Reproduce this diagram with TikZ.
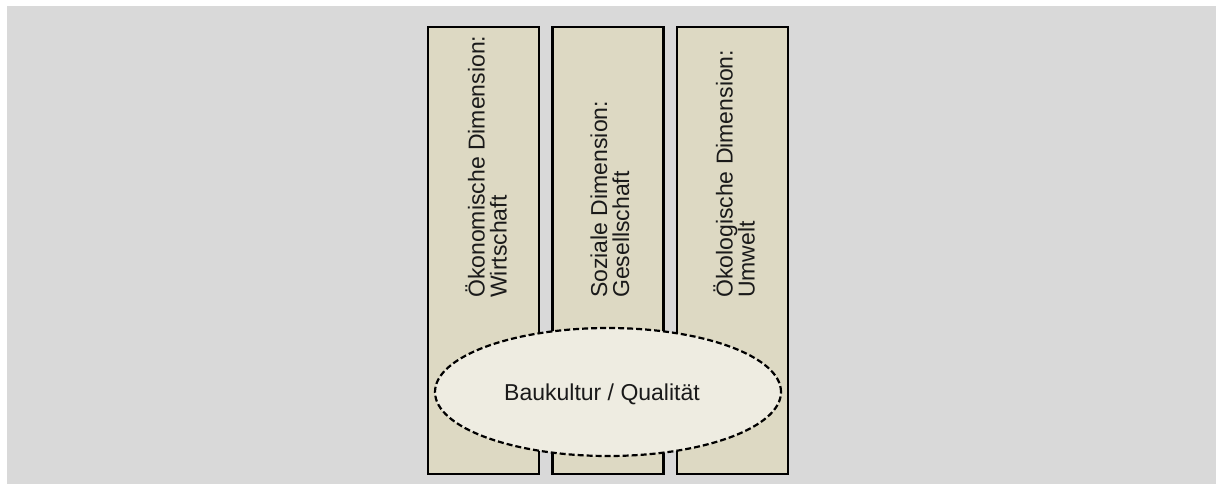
\documentclass[tikz,border=0pt]{standalone}
\usepackage{fontspec}
\setmainfont{Liberation Sans}
\usetikzlibrary{shapes.geometric}
\definecolor{pagegray}{HTML}{D9D9D9}
\definecolor{pillarfill}{HTML}{DDD9C3}
\definecolor{corefill}{HTML}{EEECE1}
\definecolor{inkcol}{HTML}{1A1A1A}
\tikzset{
  pillar/.style={draw=black, line width=2.2pt, fill=pillarfill, rectangle, minimum width=111pt, minimum height=447pt, inner sep=0pt},
  pillartext/.style={rotate=90, anchor=west, align=left, inner sep=0pt, text=inkcol,
    font=\fontsize{23}{22}\selectfont},
  core/.style={draw=black, line width=2.2pt, dash pattern=on 6pt off 3pt, fill=corefill, ellipse,
    minimum width=346pt, minimum height=128pt, inner sep=0pt, text=inkcol,
    font=\fontsize{23}{25}\selectfont},
}
\begin{document}
\begin{tikzpicture}[x=1pt, y=1pt]
  % canvas
  \fill[white] (0,0) rectangle (1216,-484);
  \useasboundingbox (0,0) rectangle (1216,-484);
  \fill[pagegray] (7,-6) rectangle (1216,-484);

  % three pillars
  \node[pillar] (p1) at (483.5,-250.5) {};
  \node[pillar] (p2) at (608,-250.5) {};
  \node[pillar] (p3) at (732.5,-250.5) {};

  \node[pillartext] (t1) at (486,-298) {Ökonomische Dimension:\\Wirtschaft};
  \node[pillartext] (t2) at (610,-298) {Soziale Dimension:\\Gesellschaft};
  \node[pillartext] (t3) at (734,-298) {Ökologische Dimension:\\Umwelt};

  % common base
  \node[core] (core) at (608,-392) {};
  \node[text=inkcol, font=\fontsize{23}{25}\selectfont, inner sep=0pt] (corelabel) at (602,-394) {Baukultur / Qualität};
\end{tikzpicture}
\end{document}
